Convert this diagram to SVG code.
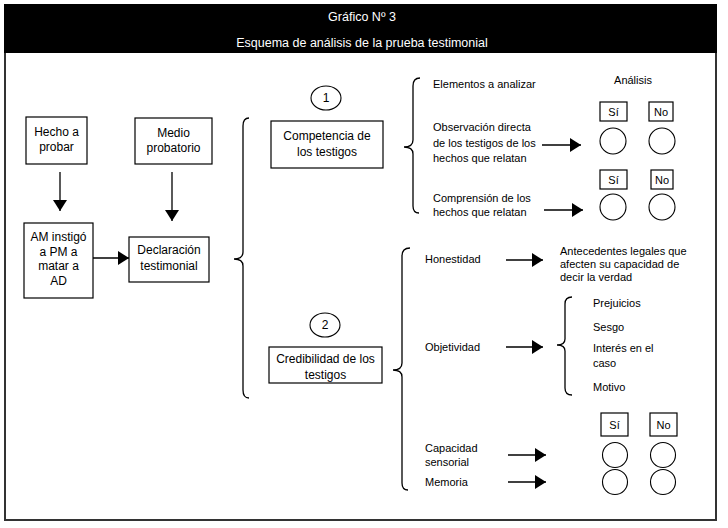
<svg xmlns="http://www.w3.org/2000/svg" width="728" height="528" viewBox="0 0 728 528">
<defs>
<marker id="ah" markerUnits="userSpaceOnUse" markerWidth="12" markerHeight="14" refX="11" refY="7" orient="auto">
<path d="M0,0 L11,7 L0,14 Z" fill="#000"/>
</marker>
<style>
text{font-family:"Liberation Sans",Arial,sans-serif;fill:#000}
.t{font-size:11px}
.c{text-anchor:middle}
.b{font-size:12px;text-anchor:middle}
.h{font-size:12.5px;text-anchor:middle;fill:#fff}
.box{fill:#fff;stroke:#000;stroke-width:1.2}
.ring{fill:#fff;stroke:#000;stroke-width:1.1}
.br{fill:none;stroke:#000;stroke-width:1.3}
.ar{stroke:#000;stroke-width:1.3;fill:none;marker-end:url(#ah)}
</style>
</defs>
<rect x="0" y="0" width="728" height="528" fill="#fff"/>
<g id="frame">
<rect x="5" y="5" width="711" height="515" fill="#fff" stroke="#333" stroke-width="2"/>
<rect x="4" y="4" width="713" height="49" fill="#000"/>
<text class="h" x="362" y="21">Gráfico Nº 3</text>
<text class="h" x="362" y="47">Esquema de análisis de la prueba testimonial</text>
</g>
<g id="connectors">
<line class="ar" x1="60" y1="172" x2="60" y2="211"/>
<line class="ar" x1="172" y1="172" x2="172" y2="221"/>
<line class="ar" x1="93" y1="258" x2="129" y2="258"/>
<line class="ar" x1="542" y1="145" x2="581" y2="145"/>
<line class="ar" x1="544" y1="210" x2="583" y2="210"/>
<line class="ar" x1="506" y1="260" x2="543" y2="260"/>
<line class="ar" x1="506" y1="347" x2="543" y2="347"/>
<line class="ar" x1="508" y1="455" x2="546" y2="455"/>
<line class="ar" x1="508" y1="482" x2="546" y2="482"/>
<path class="br" d="M249,118 Q243,118 243,126 L243,252 Q243,259 234,259 Q243,259 243,266 L243,390 Q243,398 249,398"/>
<path class="br" d="M420,78 Q413,78 413,86 L413,140 Q413,147 404,147 Q413,147 413,154 L413,206 Q413,213 419,213"/>
<path class="br" d="M410,248 Q402,248 402,256 L402,363 Q402,370 393,370 Q402,370 402,377 L402,483 Q402,490 408,490"/>
<path class="br" d="M572,297 Q565,297 565,304 L565,339 Q565,345 557,345 Q565,345 565,351 L565,388 Q565,395 572,395"/>
</g>
<g id="hecho">
<rect class="box" x="26" y="117" width="61" height="47"/>
<text class="b" x="56.5" y="136">Hecho a</text>
<text class="b" x="56.5" y="151">probar</text>
</g>
<g id="medio">
<rect class="box" x="135" y="118" width="77" height="46"/>
<text class="b" x="173.5" y="137">Medio</text>
<text class="b" x="173.5" y="152">probatorio</text>
</g>
<g id="am">
<rect class="box" x="24" y="223" width="69" height="75"/>
<text class="b" x="58.5" y="241">AM instigó</text>
<text class="b" x="58.5" y="256">a PM a</text>
<text class="b" x="58.5" y="270">matar a</text>
<text class="b" x="58.5" y="285">AD</text>
</g>
<g id="declaracion">
<rect class="box" x="129" y="237" width="80" height="45"/>
<text class="b" x="169" y="254">Declaración</text>
<text class="b" x="169" y="270">testimonial</text>
</g>
<g id="n1">
<ellipse class="ring" cx="326" cy="98" rx="15" ry="12"/>
<text class="b" x="326" y="102">1</text>
</g>
<g id="competencia">
<rect class="box" x="271" y="121" width="112" height="47"/>
<text class="b" x="327" y="140">Competencia de</text>
<text class="b" x="327" y="156">los testigos</text>
</g>
<g id="n2">
<ellipse class="ring" cx="325" cy="325" rx="15" ry="12"/>
<text class="b" x="325" y="329">2</text>
</g>
<g id="credibilidad">
<rect class="box" x="269" y="347" width="113" height="36"/>
<text class="b" x="325.5" y="363">Credibilidad de los</text>
<text class="b" x="325.5" y="379">testigos</text>
</g>
<g id="elementos">
<text class="t" x="433" y="88">Elementos a analizar</text>
</g>
<g id="analisis">
<text class="t c" x="633" y="84">Análisis</text>
</g>
<g id="observacion">
<text class="t" x="433" y="131">Observación directa</text>
<text class="t" x="433" y="147">de los testigos de los</text>
<text class="t" x="433" y="162">hechos que relatan</text>
</g>
<g id="comprension">
<text class="t" x="433" y="202">Comprensión de los</text>
<text class="t" x="433" y="216">hechos que relatan</text>
</g>
<g id="check1">
<rect class="box" x="600" y="102" width="27" height="19"/>
<text class="t c" x="613.5" y="116">Sí</text>
<rect class="box" x="649" y="102" width="24" height="19"/>
<text class="t c" x="661" y="116">No</text>
<circle class="ring" cx="613" cy="141" r="13"/>
<circle class="ring" cx="662" cy="141" r="13"/>
</g>
<g id="check2">
<rect class="box" x="600" y="170" width="27" height="19"/>
<text class="t c" x="613.5" y="184">Sí</text>
<rect class="box" x="651" y="170" width="22" height="19"/>
<text class="t c" x="662" y="184">No</text>
<circle class="ring" cx="613" cy="207" r="13"/>
<circle class="ring" cx="662" cy="207" r="13"/>
</g>
<g id="honestidad">
<text class="t" x="425" y="263">Honestidad</text>
</g>
<g id="antecedentes">
<text class="t" x="560" y="255">Antecedentes legales que</text>
<text class="t" x="560" y="268">afecten su capacidad de</text>
<text class="t" x="560" y="281">decir la verdad</text>
</g>
<g id="objetividad">
<text class="t" x="425" y="351">Objetividad</text>
</g>
<g id="factores">
<text class="t" x="593" y="307">Prejuicios</text>
<text class="t" x="593" y="331">Sesgo</text>
<text class="t" x="593" y="352">Interés en el</text>
<text class="t" x="593" y="367">caso</text>
<text class="t" x="593" y="391">Motivo</text>
</g>
<g id="capacidad">
<text class="t" x="425" y="452">Capacidad</text>
<text class="t" x="425" y="466">sensorial</text>
</g>
<g id="memoria">
<text class="t" x="425" y="486">Memoria</text>
</g>
<g id="check3">
<rect class="box" x="601" y="413" width="27" height="23"/>
<text class="t c" x="614.5" y="429">Sí</text>
<rect class="box" x="650" y="413" width="27" height="23"/>
<text class="t c" x="663.5" y="429">No</text>
<circle class="ring" cx="615" cy="455" r="12.5"/>
<circle class="ring" cx="663" cy="455" r="12.5"/>
<circle class="ring" cx="615" cy="482" r="12.5"/>
<circle class="ring" cx="663" cy="482" r="12.5"/>
</g>
</svg>
